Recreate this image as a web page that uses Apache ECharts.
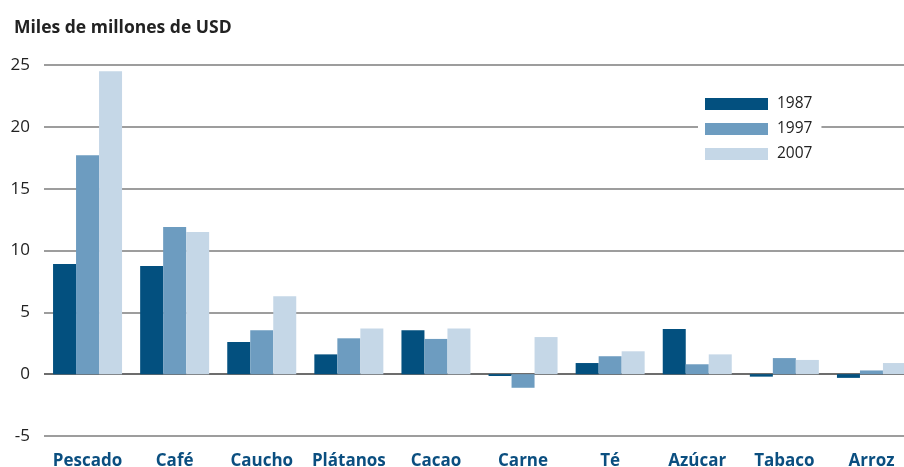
<!DOCTYPE html>
<html><head><meta charset="utf-8">
<script src="https://cdn.jsdelivr.net/npm/echarts@6/dist/echarts.min.js"></script>
<style>html,body{margin:0;padding:0;background:#fff}#c{width:904px;height:467px}</style>
</head><body><div id="c"></div>
<script>
var categories = ['Pescado','Café','Caucho','Plátanos','Cacao','Carne','Té','Azúcar','Tabaco','Arroz'];
var seriesNames = ['1987','1997','2007'];
var v1987 = [8.9, 8.75, 2.6, 1.6, 3.55, -0.15, 0.9, 3.65, -0.2, -0.3];
var v1997 = [17.7, 11.9, 3.55, 2.9, 2.85, -1.1, 1.45, 0.8, 1.3, 0.3];
var v2007 = [24.5, 11.5, 6.3, 3.7, 3.7, 3.0, 1.85, 1.6, 1.15, 0.9];
var yTicks = [-5, 0, 5, 10, 15, 20, 25];
var yTitle = 'Miles de millones de USD';

var colors = ['#03507f', '#6d9cc0', '#c5d7e7'];
var font = '"Open Sans", "Noto Sans", sans-serif';
var chart = echarts.init(document.getElementById('c'), null, {renderer:'canvas'});
function mk(name, data, i){
  return {name:name, type:'bar', data:data, barWidth:23, barGap:'0%',
    itemStyle:{color:colors[i]}, animation:false};
}
chart.setOption({
  animation:false,
  title:{text:yTitle, left:9, top:14, textStyle:{fontFamily:font, fontSize:17.5, fontWeight:'bold', color:'#222'}},
  legend:{orient:'vertical', left:698, top:91, backgroundColor:'#fff', padding:[5,9,5,7],
    itemWidth:63, itemHeight:12, itemGap:9, icon:'rect',
    textStyle:{fontFamily:font, fontSize:15.5, color:'#222', padding:[0,0,0,4]},
    data:seriesNames},
  grid:{left:44, top:65, right:-11, height:371, containLabel:false, outerBoundsMode:'none'},
  xAxis:{type:'category', data:categories, position:'bottom',
    axisLine:{show:false, onZero:false}, axisTick:{show:false},
    axisLabel:{fontFamily:font, fontSize:17, fontWeight:'bold', color:'#0b4f80', margin:17, interval:0}},
  yAxis:{type:'value', min:yTicks[0], max:yTicks[yTicks.length-1], interval:5,
    axisLine:{show:false}, axisTick:{show:false},
    axisLabel:{fontFamily:font, fontSize:17, color:'#222', margin:14},
    splitLine:{lineStyle:{color:['#7d7d7d','#3c3c3c','#7d7d7d','#7d7d7d','#7d7d7d','#7d7d7d','#7d7d7d'], width:1.5}}},
  series:[mk(seriesNames[0], v1987, 0), mk(seriesNames[1], v1997, 1), mk(seriesNames[2], v2007, 2)]
});
</script></body></html>
